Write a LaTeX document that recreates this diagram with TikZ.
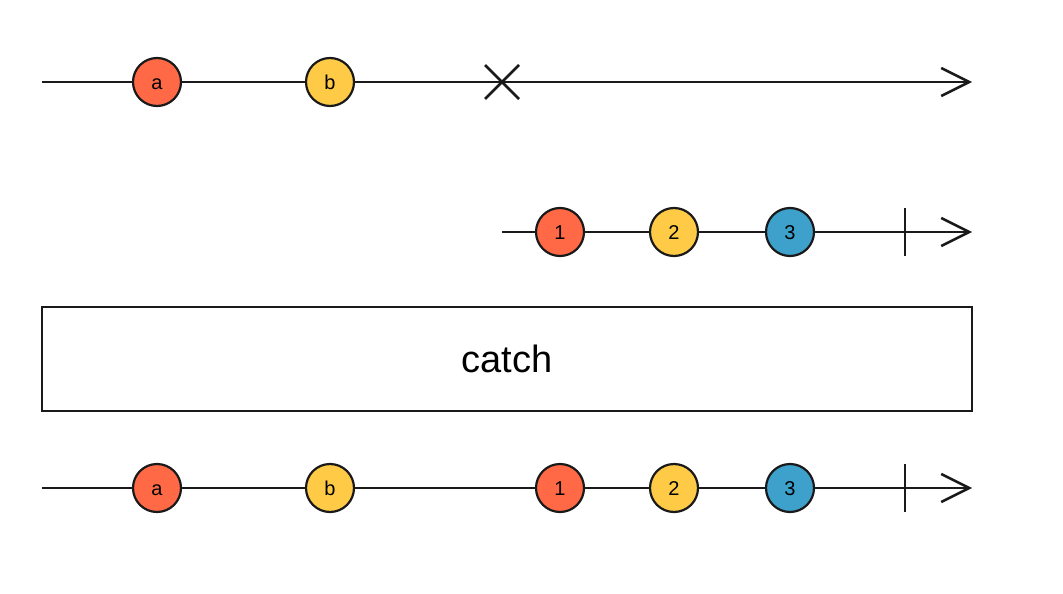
\documentclass[tikz,border=0pt]{standalone}
\usepackage{fontspec}
\setmainfont{Liberation Sans}
\usetikzlibrary{arrows.meta}
\definecolor{mred}{HTML}{FF6946}
\definecolor{myel}{HTML}{FFCB46}
\definecolor{mblue}{HTML}{3EA1CB}
\definecolor{ink}{HTML}{1A1A1A}
\begin{document}
\begin{tikzpicture}[x=1pt,y=-1pt,
  tl/.style={draw=ink,line width=2.5pt},
  tarrow/.style={tl,-{Straight Barb[length=28pt,width=28pt,line width=2.5pt]}},
  marble/.style={circle,draw=ink,line width=2.2pt,minimum size=48pt,inner sep=0pt,
    text height=14.4pt,text depth=0pt,font=\fontsize{20}{20}\selectfont},
  opbox/.style={draw=ink,line width=2.5pt,inner sep=0pt,minimum width=930pt,minimum height=104pt,font=\fontsize{38}{38}\selectfont}]
\useasboundingbox (0,0) rectangle (1063,594);
% line 1
\coordinate (s1) at (42,82);
\coordinate (e1) at (972,82);
\draw[tarrow] (s1) -- (e1);
\node[marble,fill=mred] (a1) at (157,82) {a};
\node[marble,fill=myel] (b1) at (330,82) {b};
\coordinate (x1) at (502,82);
\draw[tl] ([shift={(-17,-17)}]x1) -- ([shift={(17,17)}]x1);
\draw[tl] ([shift={(-17,17)}]x1) -- ([shift={(17,-17)}]x1);
% line 2
\coordinate (s2) at (502,232);
\coordinate (e2) at (972,232);
\draw[tarrow] (s2) -- (e2);
\node[marble,fill=mred] (n1) at (560,232) {1};
\node[marble,fill=myel] (n2) at (674,232) {2};
\node[marble,fill=mblue] (n3) at (790,232) {3};
\coordinate (c2) at (905,232);
\draw[tl] ([yshift=-24]c2) -- ([yshift=24]c2);
% operator box
\node[opbox] (op) at (507,359) {catch};
% line 3
\coordinate (s3) at (42,488);
\coordinate (e3) at (972,488);
\draw[tarrow] (s3) -- (e3);
\node[marble,fill=mred] (a3) at (157,488) {a};
\node[marble,fill=myel] (b3) at (330,488) {b};
\node[marble,fill=mred] (m1) at (560,488) {1};
\node[marble,fill=myel] (m2) at (674,488) {2};
\node[marble,fill=mblue] (m3) at (790,488) {3};
\coordinate (c3) at (905,488);
\draw[tl] ([yshift=-24]c3) -- ([yshift=24]c3);
\end{tikzpicture}
\end{document}
